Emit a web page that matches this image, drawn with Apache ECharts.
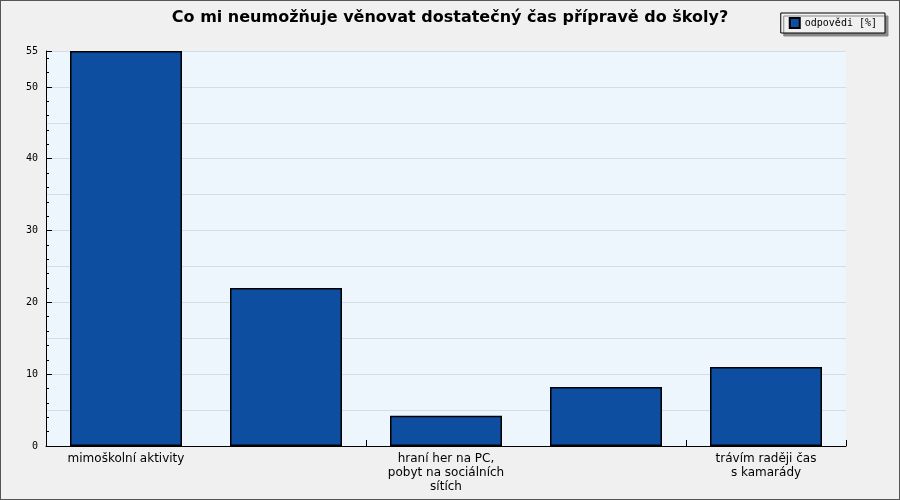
<!DOCTYPE html>
<html><head><meta charset="utf-8">
<script src="https://cdn.jsdelivr.net/npm/echarts@6/dist/echarts.min.js"></script>
<style>html,body{margin:0;padding:0;background:#f0f0f0}#main{width:898px;height:498px;border:1px solid #555;background:#f0f0f0}</style>
</head><body><div id="main"></div>
<script>
var categories = ['mimoškolní aktivity', 'pomoc s\ndomácími pracemi\nnebo práce na brigádě', 'hraní her na PC,\npobyt na sociálních\nsítích', 'sledování filmů\na videí na youtubu', 'trávím raději čas\ns kamarády'];
var values = [55, 22, 4.2, 8.2, 11];
var seriesName = 'odpovědi [%]';

var myChart = echarts.init(document.getElementById('main'));
var option = {
	animation : false,
	textStyle : { fontFamily : 'DejaVu Sans' },
	title : {
		text : 'Co mi neumožňuje věnovat dostatečný čas přípravě do školy?',
		left : 'center', top : 4,
		textStyle : { fontSize : 16, fontWeight : 'bold', color : '#000', fontFamily : 'DejaVu Sans' }
	},
	legend : {
		right : 14, top : 12,
		data : [seriesName],
		itemWidth : 10, itemHeight : 10, icon : 'rect',
		backgroundColor : '#f0f0f0', borderColor : '#000', borderWidth : 1,
		shadowColor : '#888', shadowOffsetX : 3, shadowOffsetY : 3, shadowBlur : 0,
		padding : [4, 8], borderRadius : 0,
		textStyle : { fontSize : 10, fontFamily : 'DejaVu Sans Mono', color : '#000' }
	},
	grid : { left : 45, right : 53, top : 50, bottom : 53, backgroundColor : '#eef6fd', show : true, borderWidth : 0 },
	xAxis : {
		type : 'category', data : categories,
		axisLine : { lineStyle : { color : '#000', width : 1 } },
		axisTick : { show : true, length : 6, inside : true, lineStyle : { color : '#000' } },
		axisLabel : { color : '#000', fontSize : 12, lineHeight : 14, margin : 6 }
	},
	yAxis : [{
		type : 'value', min : 0, max : 55, interval : 5,
		axisLine : { show : false }, axisTick : { show : false }, axisLabel : { show : false },
		splitLine : { lineStyle : { color : '#d4dde6' } }
	}, {
		type : 'value', min : 0, max : 55, interval : 10, position : 'left',
		axisLine : { show : true, lineStyle : { color : '#000' } },
		axisTick : { show : true, inside : true, length : 6, lineStyle : { color : '#000' } },
		minorTick : { show : true, splitNumber : 5, length : 3, lineStyle : { color : '#000' } },
		axisLabel : { color : '#000', fontSize : 10, fontFamily : 'DejaVu Sans Mono', margin : 8 },
		splitLine : { show : false }
	}],
	series : [{
		name : seriesName, type : 'bar', data : values, yAxisIndex : 0,
		barWidth : '70%',
		itemStyle : { color : '#0d4ea0', borderColor : '#000', borderWidth : 1.5 }
	}]
};
myChart.setOption(option);
</script></body></html>
